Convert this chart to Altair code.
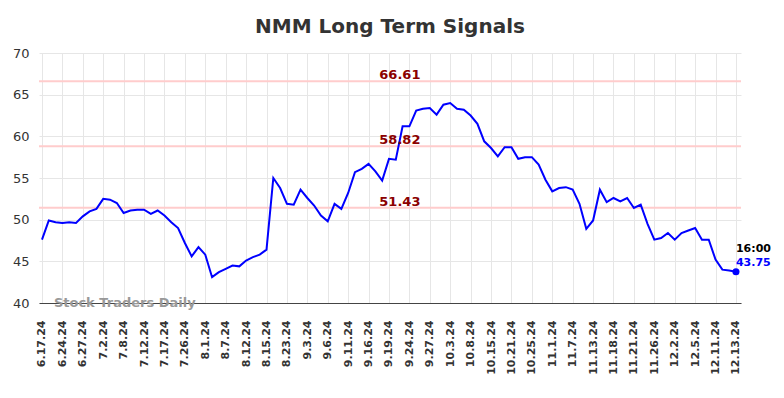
import altair as alt
import pandas as pd

values = [47.6, 49.9, 49.7, 49.6, 49.7, 49.6, 50.4, 51.0, 51.3, 52.5,
          52.4, 52.0, 50.8, 51.1, 51.2, 51.2, 50.7, 51.1, 50.5, 49.7,
          49.0, 47.2, 45.6, 46.7, 45.8, 43.1, 43.7, 44.1, 44.5, 44.4,
          45.1, 45.5, 45.8, 46.4, 55.0, 53.8, 51.9, 51.8, 53.6, 52.6,
          51.7, 50.5, 49.8, 51.9, 51.3, 53.2, 55.7, 56.1, 56.7, 55.8,
          54.7, 57.3, 57.2, 61.2, 61.2, 63.1, 63.3, 63.4, 62.6, 63.8,
          64.0, 63.3, 63.2, 62.5, 61.5, 59.4, 58.6, 57.6, 58.7, 58.7,
          57.3, 57.5, 57.5, 56.6, 54.8, 53.4, 53.8, 53.9, 53.6, 51.9,
          48.9, 49.9, 53.6, 52.1, 52.6, 52.2, 52.6, 51.4, 51.8, 49.5,
          47.6, 47.8, 48.4, 47.6, 48.4, 48.7, 49.0, 47.6, 47.6, 45.2,
          44.0, 43.9, 43.75]

tick_labels = ["6.17.24", "6.24.24", "6.27.24", "7.2.24", "7.8.24", "7.12.24",
               "7.17.24", "7.26.24", "8.1.24", "8.7.24", "8.12.24", "8.15.24",
               "8.23.24", "9.3.24", "9.6.24", "9.11.24", "9.16.24", "9.19.24",
               "9.24.24", "9.27.24", "10.3.24", "10.8.24", "10.15.24", "10.21.24",
               "10.25.24", "11.1.24", "11.7.24", "11.13.24", "11.18.24", "11.21.24",
               "11.26.24", "12.2.24", "12.5.24", "12.11.24", "12.13.24"]

levels = [66.61, 58.82, 51.43]
level_labels = ["66.61", "58.82", "51.43"]
y_ticks = [40, 45, 50, 55, 60, 65, 70]

last_time = "16:00"
last_value = "43.75"
watermark = "Stock Traders Daily"
title = "NMM Long Term Signals"

df = pd.DataFrame({"i": list(range(len(values))), "v": values})
lv = pd.DataFrame({"level": levels, "label": level_labels})
last = pd.DataFrame({"i": [len(values) - 1], "v": [values[-1]],
                     "t": [last_time], "val": [last_value]})
wm = pd.DataFrame({"t": [watermark]})

tick_pos = [k * 3 for k in range(len(tick_labels))]
label_expr = "[" + ",".join(f"'{t}'" for t in tick_labels) + "][round(datum.value/3)]"

x_scale = alt.Scale(domain=[-0.44, 102.74], nice=False, zero=False)
y_scale = alt.Scale(domain=[40, 70], nice=False, zero=False)

x_axis = alt.Axis(values=tick_pos, labelExpr=label_expr, labelAngle=-90,
                  labelAlign="right", labelBaseline="middle", grid=True,
                  gridColor="#e6e6e6", ticks=False, domainColor="#444444",
                  labelPadding=17, title=None, labelFontSize=11,
                  labelFontWeight="bold", labelColor="#333333", labelOverlap=False,
                  labelBound=False, labelFlush=False)
y_axis = alt.Axis(values=y_ticks, grid=True, gridColor="#e6e6e6", domain=False,
                  ticks=False, title=None, labelFontSize=13, labelPadding=10,
                  labelColor="#333333")


def X(field=None, datum=None):
    if datum is not None:
        return alt.X(datum=datum, type="quantitative", scale=x_scale, axis=x_axis)
    return alt.X(field, type="quantitative", scale=x_scale, axis=x_axis)


def Y(field=None, datum=None):
    if datum is not None:
        return alt.Y(datum=datum, type="quantitative", scale=y_scale, axis=y_axis)
    return alt.Y(field, type="quantitative", scale=y_scale, axis=y_axis)


line = alt.Chart(df).mark_line(color="#0000ff", strokeWidth=2).encode(
    x=X("i"), y=Y("v"))

rules = alt.Chart(lv).mark_rule(color="#ffcccc", strokeWidth=2).encode(
    y=Y("level"))

level_text = alt.Chart(lv).mark_text(
    color="#8b0000", fontSize=13, fontWeight="bold", baseline="bottom", dy=1
).encode(x=X(datum=52.6), y=Y("level"), text="label:N")

pt = alt.Chart(last).mark_circle(color="#0000ff", size=50, opacity=1).encode(
    x=X("i"), y=Y("v"))
t1 = alt.Chart(last).mark_text(color="#000000", fontSize=11, fontWeight="bold",
                               align="left", baseline="middle", dy=-23).encode(
    x=X("i"), y=Y("v"), text="t:N")
t2 = alt.Chart(last).mark_text(color="#0000ff", fontSize=11, fontWeight="bold",
                               align="left", baseline="middle", dy=-9).encode(
    x=X("i"), y=Y("v"), text="val:N")

wm_text = alt.Chart(wm).mark_text(color="#999999", fontSize=13, fontWeight="bold",
                                  align="left", baseline="middle").encode(
    x=X(datum=1.75), y=Y(datum=40), text="t:N")

chart = alt.layer(rules, line, level_text, wm_text, pt, t1, t2).properties(
    width=702, height=250,
    title=alt.TitleParams(title, fontSize=20, fontWeight="bold", color="#333333",
                          anchor="middle", offset=10),
    autosize="none",
    padding={"left": 31, "top": 45, "right": 35, "bottom": 85},
).configure(font="DejaVu Sans").configure_view(stroke=None).configure_axis(
    labelOverlap=False)

chart.save("out.html", embed_options={"renderer": "svg", "actions": False})
